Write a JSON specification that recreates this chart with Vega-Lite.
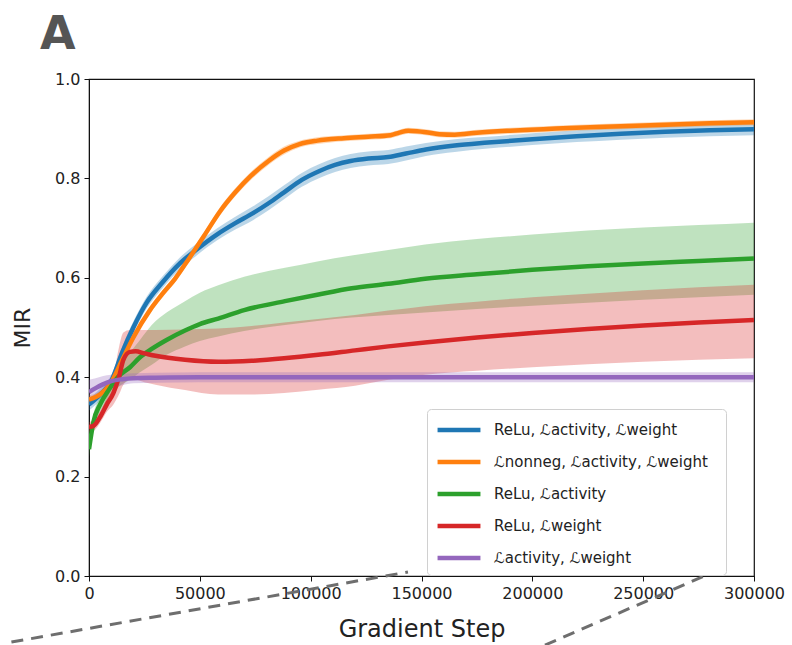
{
  "$schema": "https://vega.github.io/schema/vega-lite/v6.json",
  "width": 665,
  "height": 497,
  "autosize": "none",
  "padding": {"left": 89, "top": 79, "right": 38, "bottom": 69},
  "title": {"text": "A", "anchor": "start", "frame": "group", "fontSize": 46, "fontWeight": 900, "color": "#555555", "font": "DejaVu Sans", "dx": -49, "offset": 12},
  "config": {
    "font": "DejaVu Sans",
    "view": {"stroke": "#111111", "strokeWidth": 1.2},
    "axis": {"grid": false, "domainColor": "#111111", "tickColor": "#111111", "tickSize": 5, "labelFontSize": 16, "labelColor": "#222222", "titleColor": "#222222", "titleFontWeight": "normal", "labelFont": "DejaVu Sans", "titleFont": "DejaVu Sans", "labelFlush": false}
  },
  "datasets": {
    "curves": [
      {"s":"B","x":0,"m":0.345,"lo":0.333,"hi":0.357},
      {"s":"B","x":5000,"m":0.365,"lo":0.353,"hi":0.377},
      {"s":"B","x":10000,"m":0.392,"lo":0.38,"hi":0.404},
      {"s":"B","x":15000,"m":0.45,"lo":0.438,"hi":0.462},
      {"s":"B","x":20000,"m":0.5,"lo":0.488,"hi":0.512},
      {"s":"B","x":26000,"m":0.55,"lo":0.538,"hi":0.562},
      {"s":"B","x":33000,"m":0.59,"lo":0.578,"hi":0.602},
      {"s":"B","x":41000,"m":0.629,"lo":0.617,"hi":0.641},
      {"s":"B","x":48000,"m":0.655,"lo":0.643,"hi":0.667},
      {"s":"B","x":58000,"m":0.688,"lo":0.676,"hi":0.7},
      {"s":"B","x":66000,"m":0.71,"lo":0.697,"hi":0.723},
      {"s":"B","x":74000,"m":0.73,"lo":0.716,"hi":0.744},
      {"s":"B","x":81000,"m":0.75,"lo":0.736,"hi":0.764},
      {"s":"B","x":88000,"m":0.772,"lo":0.758,"hi":0.786},
      {"s":"B","x":96000,"m":0.797,"lo":0.783,"hi":0.811},
      {"s":"B","x":104000,"m":0.815,"lo":0.801,"hi":0.829},
      {"s":"B","x":111000,"m":0.827,"lo":0.813,"hi":0.841},
      {"s":"B","x":118000,"m":0.835,"lo":0.821,"hi":0.849},
      {"s":"B","x":126000,"m":0.84,"lo":0.826,"hi":0.854},
      {"s":"B","x":135000,"m":0.843,"lo":0.829,"hi":0.857},
      {"s":"B","x":143000,"m":0.85,"lo":0.836,"hi":0.864},
      {"s":"B","x":152000,"m":0.858,"lo":0.845,"hi":0.871},
      {"s":"B","x":165000,"m":0.866,"lo":0.853,"hi":0.879},
      {"s":"B","x":180000,"m":0.872,"lo":0.86,"hi":0.884},
      {"s":"B","x":200000,"m":0.879,"lo":0.867,"hi":0.891},
      {"s":"B","x":220000,"m":0.885,"lo":0.873,"hi":0.897},
      {"s":"B","x":240000,"m":0.89,"lo":0.878,"hi":0.902},
      {"s":"B","x":260000,"m":0.894,"lo":0.882,"hi":0.906},
      {"s":"B","x":280000,"m":0.897,"lo":0.885,"hi":0.909},
      {"s":"B","x":300000,"m":0.899,"lo":0.887,"hi":0.911},

      {"s":"O","x":0,"m":0.355,"lo":0.347,"hi":0.363},
      {"s":"O","x":5000,"m":0.365,"lo":0.358,"hi":0.372},
      {"s":"O","x":10000,"m":0.39,"lo":0.383,"hi":0.397},
      {"s":"O","x":15000,"m":0.435,"lo":0.428,"hi":0.442},
      {"s":"O","x":20000,"m":0.48,"lo":0.473,"hi":0.487},
      {"s":"O","x":27500,"m":0.535,"lo":0.528,"hi":0.542},
      {"s":"O","x":33000,"m":0.567,"lo":0.56,"hi":0.574},
      {"s":"O","x":38800,"m":0.598,"lo":0.591,"hi":0.605},
      {"s":"O","x":45000,"m":0.638,"lo":0.631,"hi":0.645},
      {"s":"O","x":52000,"m":0.685,"lo":0.678,"hi":0.692},
      {"s":"O","x":59000,"m":0.733,"lo":0.725,"hi":0.741},
      {"s":"O","x":66000,"m":0.772,"lo":0.764,"hi":0.78},
      {"s":"O","x":73000,"m":0.805,"lo":0.797,"hi":0.813},
      {"s":"O","x":81000,"m":0.835,"lo":0.827,"hi":0.843},
      {"s":"O","x":88000,"m":0.856,"lo":0.848,"hi":0.864},
      {"s":"O","x":95000,"m":0.869,"lo":0.862,"hi":0.876},
      {"s":"O","x":103000,"m":0.876,"lo":0.869,"hi":0.883},
      {"s":"O","x":115000,"m":0.881,"lo":0.875,"hi":0.887},
      {"s":"O","x":126000,"m":0.884,"lo":0.878,"hi":0.89},
      {"s":"O","x":136000,"m":0.887,"lo":0.881,"hi":0.893},
      {"s":"O","x":140000,"m":0.892,"lo":0.886,"hi":0.898},
      {"s":"O","x":144000,"m":0.896,"lo":0.89,"hi":0.902},
      {"s":"O","x":148000,"m":0.895,"lo":0.889,"hi":0.901},
      {"s":"O","x":152000,"m":0.893,"lo":0.887,"hi":0.899},
      {"s":"O","x":158000,"m":0.889,"lo":0.883,"hi":0.895},
      {"s":"O","x":165000,"m":0.888,"lo":0.882,"hi":0.894},
      {"s":"O","x":175000,"m":0.892,"lo":0.886,"hi":0.898},
      {"s":"O","x":190000,"m":0.896,"lo":0.89,"hi":0.902},
      {"s":"O","x":205000,"m":0.899,"lo":0.893,"hi":0.905},
      {"s":"O","x":220000,"m":0.902,"lo":0.896,"hi":0.908},
      {"s":"O","x":240000,"m":0.905,"lo":0.899,"hi":0.911},
      {"s":"O","x":260000,"m":0.908,"lo":0.902,"hi":0.914},
      {"s":"O","x":280000,"m":0.911,"lo":0.905,"hi":0.917},
      {"s":"O","x":300000,"m":0.913,"lo":0.907,"hi":0.919},

      {"s":"G","x":0,"m":0.255,"lo":0.24,"hi":0.27},
      {"s":"G","x":2000,"m":0.31,"lo":0.295,"hi":0.325},
      {"s":"G","x":5000,"m":0.345,"lo":0.33,"hi":0.36},
      {"s":"G","x":9000,"m":0.375,"lo":0.355,"hi":0.39},
      {"s":"G","x":13200,"m":0.401,"lo":0.38,"hi":0.42},
      {"s":"G","x":18500,"m":0.42,"lo":0.395,"hi":0.45},
      {"s":"G","x":23000,"m":0.44,"lo":0.41,"hi":0.475},
      {"s":"G","x":28300,"m":0.457,"lo":0.425,"hi":0.505},
      {"s":"G","x":35000,"m":0.475,"lo":0.445,"hi":0.53},
      {"s":"G","x":43300,"m":0.494,"lo":0.462,"hi":0.553},
      {"s":"G","x":50000,"m":0.507,"lo":0.473,"hi":0.57},
      {"s":"G","x":58300,"m":0.518,"lo":0.482,"hi":0.585},
      {"s":"G","x":70000,"m":0.535,"lo":0.493,"hi":0.602},
      {"s":"G","x":88400,"m":0.553,"lo":0.505,"hi":0.62},
      {"s":"G","x":103000,"m":0.566,"lo":0.513,"hi":0.633},
      {"s":"G","x":118500,"m":0.579,"lo":0.52,"hi":0.645},
      {"s":"G","x":135000,"m":0.588,"lo":0.525,"hi":0.656},
      {"s":"G","x":151600,"m":0.598,"lo":0.53,"hi":0.667},
      {"s":"G","x":175000,"m":0.607,"lo":0.537,"hi":0.678},
      {"s":"G","x":200000,"m":0.616,"lo":0.544,"hi":0.687},
      {"s":"G","x":225000,"m":0.623,"lo":0.55,"hi":0.695},
      {"s":"G","x":250000,"m":0.629,"lo":0.556,"hi":0.701},
      {"s":"G","x":275000,"m":0.634,"lo":0.561,"hi":0.706},
      {"s":"G","x":300000,"m":0.639,"lo":0.566,"hi":0.711},

      {"s":"R","x":0,"m":0.3,"lo":0.29,"hi":0.31},
      {"s":"R","x":2000,"m":0.302,"lo":0.292,"hi":0.314},
      {"s":"R","x":5000,"m":0.32,"lo":0.308,"hi":0.332},
      {"s":"R","x":8000,"m":0.345,"lo":0.33,"hi":0.36},
      {"s":"R","x":11000,"m":0.368,"lo":0.345,"hi":0.4},
      {"s":"R","x":13500,"m":0.4,"lo":0.365,"hi":0.46},
      {"s":"R","x":15500,"m":0.435,"lo":0.385,"hi":0.49},
      {"s":"R","x":18500,"m":0.451,"lo":0.395,"hi":0.495},
      {"s":"R","x":21000,"m":0.452,"lo":0.395,"hi":0.495},
      {"s":"R","x":25000,"m":0.448,"lo":0.39,"hi":0.495},
      {"s":"R","x":30000,"m":0.443,"lo":0.385,"hi":0.495},
      {"s":"R","x":43300,"m":0.435,"lo":0.374,"hi":0.496},
      {"s":"R","x":58300,"m":0.431,"lo":0.365,"hi":0.498},
      {"s":"R","x":73400,"m":0.433,"lo":0.365,"hi":0.503},
      {"s":"R","x":88000,"m":0.438,"lo":0.368,"hi":0.51},
      {"s":"R","x":103400,"m":0.445,"lo":0.375,"hi":0.517},
      {"s":"R","x":120000,"m":0.454,"lo":0.383,"hi":0.525},
      {"s":"R","x":135000,"m":0.462,"lo":0.395,"hi":0.534},
      {"s":"R","x":151600,"m":0.47,"lo":0.405,"hi":0.543},
      {"s":"R","x":175000,"m":0.48,"lo":0.413,"hi":0.552},
      {"s":"R","x":200000,"m":0.489,"lo":0.42,"hi":0.561},
      {"s":"R","x":225000,"m":0.497,"lo":0.426,"hi":0.568},
      {"s":"R","x":250000,"m":0.504,"lo":0.431,"hi":0.575},
      {"s":"R","x":275000,"m":0.51,"lo":0.435,"hi":0.581},
      {"s":"R","x":300000,"m":0.515,"lo":0.438,"hi":0.586},

      {"s":"P","x":0,"m":0.37,"lo":0.345,"hi":0.395},
      {"s":"P","x":3000,"m":0.378,"lo":0.355,"hi":0.398},
      {"s":"P","x":6000,"m":0.385,"lo":0.365,"hi":0.402},
      {"s":"P","x":10000,"m":0.392,"lo":0.378,"hi":0.405},
      {"s":"P","x":15000,"m":0.396,"lo":0.384,"hi":0.407},
      {"s":"P","x":20000,"m":0.398,"lo":0.388,"hi":0.408},
      {"s":"P","x":30000,"m":0.399,"lo":0.389,"hi":0.409},
      {"s":"P","x":50000,"m":0.4,"lo":0.39,"hi":0.41},
      {"s":"P","x":100000,"m":0.4,"lo":0.39,"hi":0.41},
      {"s":"P","x":150000,"m":0.4,"lo":0.39,"hi":0.41},
      {"s":"P","x":200000,"m":0.4,"lo":0.39,"hi":0.41},
      {"s":"P","x":250000,"m":0.4,"lo":0.39,"hi":0.41},
      {"s":"P","x":300000,"m":0.4,"lo":0.39,"hi":0.41}
    ],
    "zoomlines": [
      {"seg":"a","x":-35000,"y":-0.133},
      {"seg":"a","x":143900,"y":0.008},
      {"seg":"b","x":205700,"y":-0.139},
      {"seg":"b","x":283800,"y":0.012}
    ]
  },
  "layer": [
    {
      "data": {"name": "curves"},
      "mark": {"type": "area", "fillOpacity": 0.3, "clip": true, "interpolate": "monotone"},
      "encoding": {
        "x": {"field": "x", "type": "quantitative", "scale": {"domain": [0, 300000], "nice": false, "zero": false},
              "axis": {"title": "Gradient Step", "titleFontSize": 24, "titlePadding": 16, "values": [0,50000,100000,150000,200000,250000,300000], "format": "d", "labelPadding": 4}},
        "y": {"field": "lo", "type": "quantitative", "scale": {"domain": [0, 1], "nice": false},
              "axis": {"title": "MIR", "titleFontSize": 22, "titlePadding": 20, "values": [0,0.2,0.4,0.6,0.8,1.0], "format": ".1f", "labelPadding": 4}},
        "y2": {"field": "hi"},
        "color": {"field": "s", "type": "nominal", "scale": {"domain": ["B","O","G","R","P"], "range": ["#1f77b4","#ff7f0e","#2ca02c","#d62728","#9467bd"]}}
      }
    },
    {
      "data": {"name": "curves"},
      "mark": {"type": "line", "strokeWidth": 4.5, "clip": true, "interpolate": "monotone"},
      "encoding": {
        "x": {"field": "x", "type": "quantitative", "scale": {"domain": [0, 300000], "nice": false, "zero": false}},
        "y": {"field": "m", "type": "quantitative", "scale": {"domain": [0, 1], "nice": false}},
        "color": {"field": "s", "type": "nominal", "scale": {"domain": ["B","O","G","R","P"], "range": ["#1f77b4","#ff7f0e","#2ca02c","#d62728","#9467bd"]},
          "legend": {
            "title": null, "orient": "none", "legendX": 338, "legendY": 330,
            "symbolType": "M-2,0H2", "symbolStrokeWidth": 4.5, "symbolSize": 460, "symbolOffset": 11, "symbolOpacity": 1, "symbolFillColor": "transparent",
            "labelFontSize": 15, "labelColor": "#222222", "labelFont": "DejaVu Sans", "labelLimit": 400,
            "rowPadding": 10, "labelOffset": 22, "padding": 8,
            "strokeColor": "#d0d0d0", "fillColor": "#ffffff", "cornerRadius": 4,
            "labelExpr": "datum.label == 'B' ? 'ReLu,  ℒactivity,  ℒweight' : datum.label == 'O' ? 'ℒnonneg,  ℒactivity,  ℒweight' : datum.label == 'G' ? 'ReLu,  ℒactivity' : datum.label == 'R' ? 'ReLu,  ℒweight' : 'ℒactivity,  ℒweight'"
          }}
      }
    },
    {
      "data": {"name": "zoomlines"},
      "mark": {"type": "line", "strokeDash": [12, 8], "strokeWidth": 3, "color": "#6e6e6e", "clip": false},
      "encoding": {
        "x": {"field": "x", "type": "quantitative", "scale": {"domain": [0, 300000], "nice": false, "zero": false}},
        "y": {"field": "y", "type": "quantitative", "scale": {"domain": [0, 1], "nice": false}},
        "detail": {"field": "seg", "type": "nominal"}
      }
    }
  ]
}
